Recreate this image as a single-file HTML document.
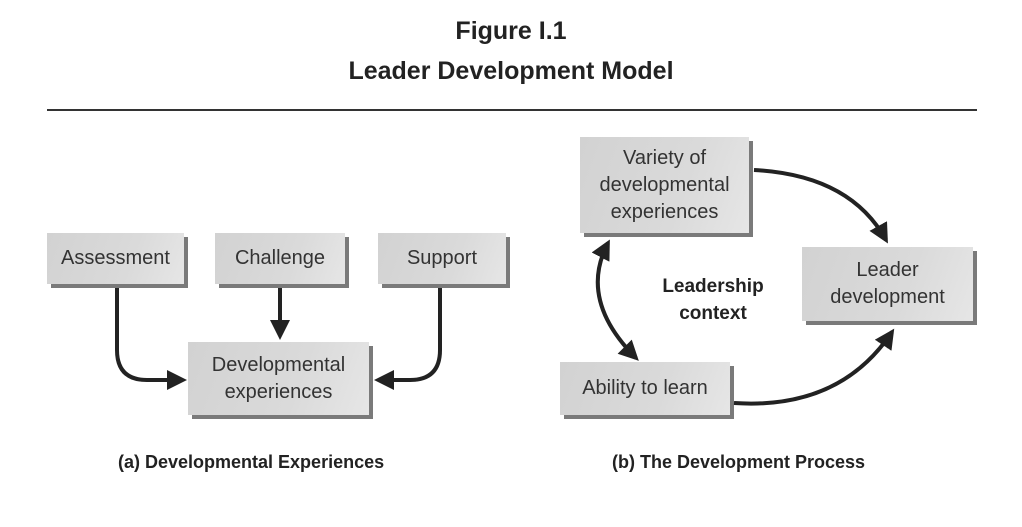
<!DOCTYPE html>
<html><head><style>
body{margin:0;width:1022px;height:527px;background:#fff;font-family:"Liberation Sans",sans-serif;position:relative;overflow:hidden;color:#222}
.t{position:absolute;left:0;width:1022px;text-align:center;font-weight:bold;font-size:25px}
.b{position:absolute;background:linear-gradient(110deg,#d2d2d2 0%,#dadada 60%,#e6e6e6 100%);box-shadow:4px 4px 0 #7a7a7a;display:flex;align-items:center;justify-content:center;text-align:center;font-size:20px;line-height:27px;color:#333}
.c{position:absolute;font-weight:bold;font-size:18px}
</style></head><body>
<div class="t" style="top:17px">Figure I.1</div>
<div class="t" style="top:57px">Leader Development Model</div>
<div style="position:absolute;left:47px;top:109px;width:930px;height:2px;background:#333"></div>

<div class="b" style="left:47px;top:233px;width:137px;height:51px">Assessment</div>
<div class="b" style="left:215px;top:233px;width:130px;height:51px">Challenge</div>
<div class="b" style="left:378px;top:233px;width:128px;height:51px">Support</div>
<div class="b" style="left:188px;top:342px;width:181px;height:73px">Developmental<br>experiences</div>

<div class="b" style="left:580px;top:137px;width:169px;height:96px">Variety of<br>developmental<br>experiences</div>
<div class="b" style="left:802px;top:247px;width:171px;height:74px">Leader<br>development</div>
<div class="b" style="left:560px;top:362px;width:170px;height:53px">Ability to learn</div>

<div class="c" style="left:638px;top:273px;width:150px;text-align:center;line-height:27px;font-size:19px">Leadership<br>context</div>
<div class="c" style="left:118px;top:452px">(a) Developmental Experiences</div>
<div class="c" style="left:612px;top:452px">(b) The Development Process</div>

<svg width="1022" height="527" style="position:absolute;left:0;top:0">
<defs><marker id="a" viewBox="0 0 10 10" refX="8" refY="5" markerWidth="5" markerHeight="5" orient="auto-start-reverse"><path d="M0,0L10,5L0,10z" fill="#222"/></marker></defs>
<g fill="none" stroke="#222" stroke-width="4">
<path d="M117,288 V350 Q117,380 147,380 H183" marker-end="url(#a)"/>
<path d="M280,288 V336" marker-end="url(#a)"/>
<path d="M440,288 V350 Q440,380 410,380 H378" marker-end="url(#a)"/>
<path d="M754,170 Q850,175 886,240" marker-end="url(#a)"/>
<path d="M734,403 Q840,410 892,332" marker-end="url(#a)"/>
<path d="M608,243 Q578,300 636,358" marker-start="url(#a)" marker-end="url(#a)"/>
</g></svg>
</body></html>
